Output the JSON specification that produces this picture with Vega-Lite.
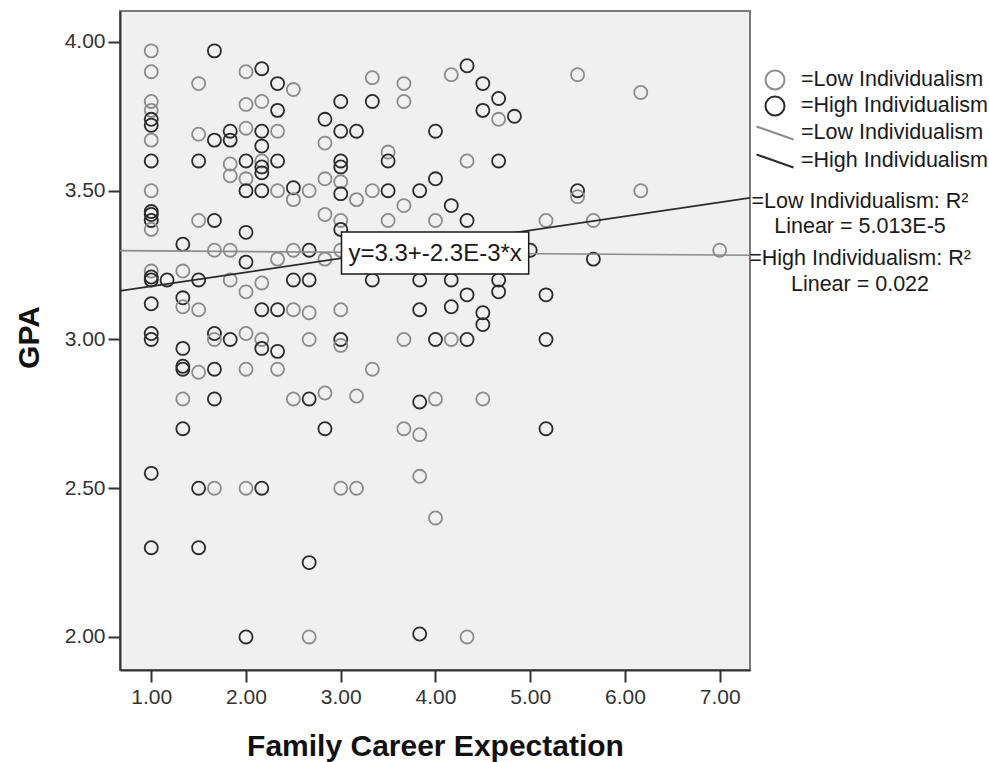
{
  "$schema": "https://vega.github.io/schema/vega-lite/v6.json",
  "width": 630,
  "height": 659,
  "autosize": {"type": "none"},
  "padding": {"left": 120, "top": 11, "right": 239, "bottom": 92},
  "background": "white",
  "config": {
    "view": {"fill": "#f0f0f0", "stroke": "#7a7a7a", "strokeWidth": 2},
    "font": "Liberation Sans"
  },
  "datasets": {
    "points": [
      {"career": 1, "gpa": 3.97, "group": "Low"}, {"career": 1, "gpa": 3.90, "group": "Low"}, {"career": 1, "gpa": 3.80, "group": "Low"}, {"career": 1, "gpa": 3.77, "group": "Low"}, {"career": 1, "gpa": 3.74, "group": "High"}, {"career": 1, "gpa": 3.72, "group": "High"}, {"career": 1, "gpa": 3.67, "group": "Low"}, {"career": 1, "gpa": 3.60, "group": "High"}, {"career": 1, "gpa": 3.50, "group": "Low"}, {"career": 1, "gpa": 3.43, "group": "High"}, {"career": 1, "gpa": 3.42, "group": "High"}, {"career": 1, "gpa": 3.40, "group": "High"}, {"career": 1, "gpa": 3.37, "group": "Low"}, {"career": 1, "gpa": 3.23, "group": "Low"}, {"career": 1, "gpa": 3.21, "group": "High"}, {"career": 1, "gpa": 3.20, "group": "High"}, {"career": 1, "gpa": 3.12, "group": "High"}, {"career": 1, "gpa": 3.02, "group": "High"}, {"career": 1, "gpa": 3.00, "group": "High"}, {"career": 1, "gpa": 2.55, "group": "High"}, {"career": 1, "gpa": 2.30, "group": "High"},
      {"career": 1.1667, "gpa": 3.20, "group": "High"},
      {"career": 1.3333, "gpa": 3.32, "group": "High"}, {"career": 1.3333, "gpa": 3.23, "group": "Low"}, {"career": 1.3333, "gpa": 3.14, "group": "High"}, {"career": 1.3333, "gpa": 3.11, "group": "Low"}, {"career": 1.3333, "gpa": 2.97, "group": "High"}, {"career": 1.3333, "gpa": 2.91, "group": "High"}, {"career": 1.3333, "gpa": 2.90, "group": "High"}, {"career": 1.3333, "gpa": 2.80, "group": "Low"}, {"career": 1.3333, "gpa": 2.70, "group": "High"},
      {"career": 1.5, "gpa": 3.86, "group": "Low"}, {"career": 1.5, "gpa": 3.69, "group": "Low"}, {"career": 1.5, "gpa": 3.60, "group": "High"}, {"career": 1.5, "gpa": 3.40, "group": "Low"}, {"career": 1.5, "gpa": 3.20, "group": "High"}, {"career": 1.5, "gpa": 3.10, "group": "Low"}, {"career": 1.5, "gpa": 2.89, "group": "Low"}, {"career": 1.5, "gpa": 2.50, "group": "High"}, {"career": 1.5, "gpa": 2.30, "group": "High"},
      {"career": 1.6667, "gpa": 3.97, "group": "High"}, {"career": 1.6667, "gpa": 3.67, "group": "High"}, {"career": 1.6667, "gpa": 3.40, "group": "High"}, {"career": 1.6667, "gpa": 3.30, "group": "Low"}, {"career": 1.6667, "gpa": 3.02, "group": "High"}, {"career": 1.6667, "gpa": 3.00, "group": "Low"}, {"career": 1.6667, "gpa": 2.90, "group": "High"}, {"career": 1.6667, "gpa": 2.80, "group": "High"}, {"career": 1.6667, "gpa": 2.50, "group": "Low"},
      {"career": 1.8333, "gpa": 3.70, "group": "High"}, {"career": 1.8333, "gpa": 3.67, "group": "High"}, {"career": 1.8333, "gpa": 3.59, "group": "Low"}, {"career": 1.8333, "gpa": 3.55, "group": "Low"}, {"career": 1.8333, "gpa": 3.30, "group": "Low"}, {"career": 1.8333, "gpa": 3.20, "group": "Low"}, {"career": 1.8333, "gpa": 3.00, "group": "High"},
      {"career": 2, "gpa": 3.90, "group": "Low"}, {"career": 2, "gpa": 3.79, "group": "Low"}, {"career": 2, "gpa": 3.71, "group": "Low"}, {"career": 2, "gpa": 3.60, "group": "High"}, {"career": 2, "gpa": 3.54, "group": "Low"}, {"career": 2, "gpa": 3.50, "group": "High"}, {"career": 2, "gpa": 3.36, "group": "High"}, {"career": 2, "gpa": 3.26, "group": "High"}, {"career": 2, "gpa": 3.16, "group": "Low"}, {"career": 2, "gpa": 3.02, "group": "Low"}, {"career": 2, "gpa": 2.90, "group": "Low"}, {"career": 2, "gpa": 2.50, "group": "Low"}, {"career": 2, "gpa": 2.00, "group": "High"},
      {"career": 2.1667, "gpa": 3.91, "group": "High"}, {"career": 2.1667, "gpa": 3.80, "group": "Low"}, {"career": 2.1667, "gpa": 3.70, "group": "High"}, {"career": 2.1667, "gpa": 3.65, "group": "High"}, {"career": 2.1667, "gpa": 3.60, "group": "Low"}, {"career": 2.1667, "gpa": 3.58, "group": "High"}, {"career": 2.1667, "gpa": 3.56, "group": "High"}, {"career": 2.1667, "gpa": 3.50, "group": "High"}, {"career": 2.1667, "gpa": 3.19, "group": "Low"}, {"career": 2.1667, "gpa": 3.10, "group": "High"}, {"career": 2.1667, "gpa": 3.00, "group": "Low"}, {"career": 2.1667, "gpa": 2.97, "group": "High"}, {"career": 2.1667, "gpa": 2.50, "group": "High"},
      {"career": 2.3333, "gpa": 3.86, "group": "High"}, {"career": 2.3333, "gpa": 3.77, "group": "High"}, {"career": 2.3333, "gpa": 3.70, "group": "Low"}, {"career": 2.3333, "gpa": 3.60, "group": "High"}, {"career": 2.3333, "gpa": 3.50, "group": "Low"}, {"career": 2.3333, "gpa": 3.27, "group": "Low"}, {"career": 2.3333, "gpa": 3.10, "group": "High"}, {"career": 2.3333, "gpa": 2.96, "group": "High"}, {"career": 2.3333, "gpa": 2.90, "group": "Low"},
      {"career": 2.5, "gpa": 3.84, "group": "Low"}, {"career": 2.5, "gpa": 3.51, "group": "High"}, {"career": 2.5, "gpa": 3.47, "group": "Low"}, {"career": 2.5, "gpa": 3.30, "group": "Low"}, {"career": 2.5, "gpa": 3.20, "group": "High"}, {"career": 2.5, "gpa": 3.10, "group": "Low"}, {"career": 2.5, "gpa": 2.80, "group": "Low"},
      {"career": 2.6667, "gpa": 3.50, "group": "Low"}, {"career": 2.6667, "gpa": 3.30, "group": "High"}, {"career": 2.6667, "gpa": 3.20, "group": "High"}, {"career": 2.6667, "gpa": 3.09, "group": "Low"}, {"career": 2.6667, "gpa": 3.00, "group": "Low"}, {"career": 2.6667, "gpa": 2.80, "group": "High"}, {"career": 2.6667, "gpa": 2.25, "group": "High"}, {"career": 2.6667, "gpa": 2.00, "group": "Low"},
      {"career": 2.8333, "gpa": 3.74, "group": "High"}, {"career": 2.8333, "gpa": 3.66, "group": "Low"}, {"career": 2.8333, "gpa": 3.54, "group": "Low"}, {"career": 2.8333, "gpa": 3.42, "group": "Low"}, {"career": 2.8333, "gpa": 3.27, "group": "Low"}, {"career": 2.8333, "gpa": 2.82, "group": "Low"}, {"career": 2.8333, "gpa": 2.70, "group": "High"},
      {"career": 3, "gpa": 3.80, "group": "High"}, {"career": 3, "gpa": 3.70, "group": "High"}, {"career": 3, "gpa": 3.60, "group": "High"}, {"career": 3, "gpa": 3.58, "group": "High"}, {"career": 3, "gpa": 3.53, "group": "Low"}, {"career": 3, "gpa": 3.49, "group": "High"}, {"career": 3, "gpa": 3.40, "group": "Low"}, {"career": 3, "gpa": 3.37, "group": "High"}, {"career": 3, "gpa": 3.30, "group": "Low"}, {"career": 3, "gpa": 3.10, "group": "Low"}, {"career": 3, "gpa": 3.00, "group": "High"}, {"career": 3, "gpa": 2.98, "group": "Low"}, {"career": 3, "gpa": 2.50, "group": "Low"},
      {"career": 3.1667, "gpa": 3.70, "group": "High"}, {"career": 3.1667, "gpa": 3.47, "group": "Low"}, {"career": 3.1667, "gpa": 2.81, "group": "Low"}, {"career": 3.1667, "gpa": 2.50, "group": "Low"},
      {"career": 3.3333, "gpa": 3.88, "group": "Low"}, {"career": 3.3333, "gpa": 3.80, "group": "High"}, {"career": 3.3333, "gpa": 3.50, "group": "Low"}, {"career": 3.3333, "gpa": 3.20, "group": "High"}, {"career": 3.3333, "gpa": 2.90, "group": "Low"},
      {"career": 3.5, "gpa": 3.63, "group": "Low"}, {"career": 3.5, "gpa": 3.60, "group": "High"}, {"career": 3.5, "gpa": 3.50, "group": "High"}, {"career": 3.5, "gpa": 3.40, "group": "Low"},
      {"career": 3.6667, "gpa": 3.86, "group": "Low"}, {"career": 3.6667, "gpa": 3.80, "group": "Low"}, {"career": 3.6667, "gpa": 3.45, "group": "Low"}, {"career": 3.6667, "gpa": 3.00, "group": "Low"}, {"career": 3.6667, "gpa": 2.70, "group": "Low"},
      {"career": 3.8333, "gpa": 3.50, "group": "High"}, {"career": 3.8333, "gpa": 3.20, "group": "High"}, {"career": 3.8333, "gpa": 3.10, "group": "High"}, {"career": 3.8333, "gpa": 2.79, "group": "High"}, {"career": 3.8333, "gpa": 2.68, "group": "Low"}, {"career": 3.8333, "gpa": 2.54, "group": "Low"}, {"career": 3.8333, "gpa": 2.01, "group": "High"},
      {"career": 4, "gpa": 3.70, "group": "High"}, {"career": 4, "gpa": 3.54, "group": "High"}, {"career": 4, "gpa": 3.40, "group": "Low"}, {"career": 4, "gpa": 3.00, "group": "High"}, {"career": 4, "gpa": 2.80, "group": "Low"}, {"career": 4, "gpa": 2.40, "group": "Low"},
      {"career": 4.1667, "gpa": 3.89, "group": "Low"}, {"career": 4.1667, "gpa": 3.45, "group": "High"}, {"career": 4.1667, "gpa": 3.20, "group": "High"}, {"career": 4.1667, "gpa": 3.11, "group": "High"}, {"career": 4.1667, "gpa": 3.00, "group": "Low"},
      {"career": 4.3333, "gpa": 3.92, "group": "High"}, {"career": 4.3333, "gpa": 3.60, "group": "Low"}, {"career": 4.3333, "gpa": 3.40, "group": "High"}, {"career": 4.3333, "gpa": 3.15, "group": "High"}, {"career": 4.3333, "gpa": 3.00, "group": "High"}, {"career": 4.3333, "gpa": 2.00, "group": "Low"},
      {"career": 4.5, "gpa": 3.86, "group": "High"}, {"career": 4.5, "gpa": 3.77, "group": "High"}, {"career": 4.5, "gpa": 3.09, "group": "High"}, {"career": 4.5, "gpa": 3.05, "group": "High"}, {"career": 4.5, "gpa": 2.80, "group": "Low"},
      {"career": 4.6667, "gpa": 3.81, "group": "High"}, {"career": 4.6667, "gpa": 3.74, "group": "Low"}, {"career": 4.6667, "gpa": 3.60, "group": "High"}, {"career": 4.6667, "gpa": 3.20, "group": "High"}, {"career": 4.6667, "gpa": 3.16, "group": "High"},
      {"career": 4.8333, "gpa": 3.75, "group": "High"},
      {"career": 5, "gpa": 3.30, "group": "High"},
      {"career": 5.1667, "gpa": 3.40, "group": "Low"}, {"career": 5.1667, "gpa": 3.15, "group": "High"}, {"career": 5.1667, "gpa": 3.00, "group": "High"}, {"career": 5.1667, "gpa": 2.70, "group": "High"},
      {"career": 5.5, "gpa": 3.89, "group": "Low"}, {"career": 5.5, "gpa": 3.50, "group": "High"}, {"career": 5.5, "gpa": 3.48, "group": "Low"},
      {"career": 5.6667, "gpa": 3.40, "group": "Low"}, {"career": 5.6667, "gpa": 3.27, "group": "High"},
      {"career": 6.1667, "gpa": 3.83, "group": "Low"}, {"career": 6.1667, "gpa": 3.50, "group": "Low"},
      {"career": 7, "gpa": 3.30, "group": "Low"}
    ],
    "fits": [
      {"career": 0.67, "gpa": 3.2985, "group": "Low fit"},
      {"career": 7.32, "gpa": 3.283, "group": "Low fit"},
      {"career": 0.67, "gpa": 3.163, "group": "High fit"},
      {"career": 7.32, "gpa": 3.476, "group": "High fit"}
    ],
    "r2labels": [
      {"career": 7.32, "gpa": 3.476, "label": "=Low Individualism: R²\nLinear = 5.013E-5"},
      {"career": 7.32, "gpa": 3.283, "label": "=High Individualism: R²\nLinear = 0.022"}
    ],
    "equation": [
      {"label": "y=3.3+-2.3E-3*x"}
    ]
  },
  "layer": [
    {
      "data": {"name": "points"},
      "mark": {"type": "point", "filled": false, "size": 190, "strokeWidth": 1.8, "opacity": 1},
      "encoding": {
        "x": {
          "field": "career", "type": "quantitative",
          "scale": {"domain": [0.67, 7.32], "nice": false, "zero": false},
          "axis": {
            "values": [1, 2, 3, 4, 5, 6, 7], "format": ".2f", "grid": false,
            "title": "Family Career Expectation", "titleFontSize": 30, "titleFontWeight": "bold", "titleColor": "#111111",
            "titleY": 85, "titleBaseline": "alphabetic",
            "labelFontSize": 21, "labelColor": "#333333", "labelPadding": 4, "labelFlush": false, "labelOverlap": false,
            "tickSize": 12, "tickColor": "#333333", "tickWidth": 2,
            "domainColor": "#333333", "domainWidth": 2
          }
        },
        "y": {
          "field": "gpa", "type": "quantitative",
          "scale": {"domain": [1.889, 4.104], "nice": false, "zero": false},
          "axis": {
            "values": [2, 2.5, 3, 3.5, 4], "format": ".2f", "grid": false,
            "title": "GPA", "titleFontSize": 30, "titleFontWeight": "bold", "titleColor": "#111111",
            "titleAngle": 270, "titleX": -82, "titleY": 326, "titleBaseline": "alphabetic", "titleAlign": "center",
            "labelFontSize": 21, "labelColor": "#333333", "labelPadding": 3, "labelFlush": false, "labelOverlap": false,
            "tickSize": 12, "tickColor": "#333333", "tickWidth": 2,
            "domainColor": "#333333", "domainWidth": 2
          }
        },
        "shape": {
          "field": "group", "type": "nominal",
          "scale": {
            "domain": ["Low", "High", "Low fit", "High fit"],
            "range": [
              "M0.95,0A0.95,0.95,0,1,1,-0.95,0A0.95,0.95,0,1,1,0.95,0Z",
              "M0.95,0A0.95,0.95,0,1,1,-0.95,0A0.95,0.95,0,1,1,0.95,0Z",
              "M0,-1.05M0,1.05M-1.85,-0.65L1.85,0.65",
              "M0,-1.05M0,1.05M-1.85,-0.65L1.85,0.65"
            ]
          }
        },
        "color": {
          "field": "group", "type": "nominal",
          "scale": {"domain": ["Low", "High", "Low fit", "High fit"], "range": ["#8c8c8c", "#2b2b2b", "#8c8c8c", "#2b2b2b"]},
          "legend": {
            "title": null, "orient": "none", "legendX": 644, "legendY": 58, "padding": 0,
            "labelExpr": "indexof(datum.label, 'Low') >= 0 ? '=Low Individualism' : '=High Individualism'",
            "labelFontSize": 21.5, "labelColor": "#1a1a1a", "labelOffset": 15, "labelLimit": 400,
            "rowPadding": -2, "symbolSize": 400, "symbolStrokeWidth": 2, "symbolFillColor": "transparent"
          }
        }
      }
    },
    {
      "data": {"name": "fits"},
      "mark": {"type": "line", "strokeWidth": 1.7, "clip": true},
      "encoding": {
        "x": {"field": "career", "type": "quantitative"},
        "y": {"field": "gpa", "type": "quantitative"},
        "color": {"field": "group", "type": "nominal"}
      }
    },
    {
      "data": {"name": "equation"},
      "mark": {"type": "rect", "fill": "white", "stroke": "#1a1a1a", "strokeWidth": 1.5},
      "encoding": {
        "x": {"datum": 3.008}, "x2": {"datum": 4.984},
        "y": {"datum": 3.361}, "y2": {"datum": 3.220}
      }
    },
    {
      "data": {"name": "equation"},
      "mark": {"type": "text", "fontSize": 24, "color": "#1a1a1a", "baseline": "middle", "align": "center"},
      "encoding": {
        "x": {"datum": 3.996}, "y": {"datum": 3.2874},
        "text": {"field": "label", "type": "nominal"}
      }
    },
    {
      "data": {"name": "r2labels"},
      "mark": {"type": "text", "fontSize": 21.5, "color": "#1a1a1a", "align": "center", "baseline": "alphabetic", "dx": 110, "dy": 10, "lineBreak": "\n", "lineHeight": 25.5},
      "encoding": {
        "x": {"field": "career", "type": "quantitative"},
        "y": {"field": "gpa", "type": "quantitative"},
        "text": {"field": "label", "type": "nominal"}
      }
    }
  ]
}
